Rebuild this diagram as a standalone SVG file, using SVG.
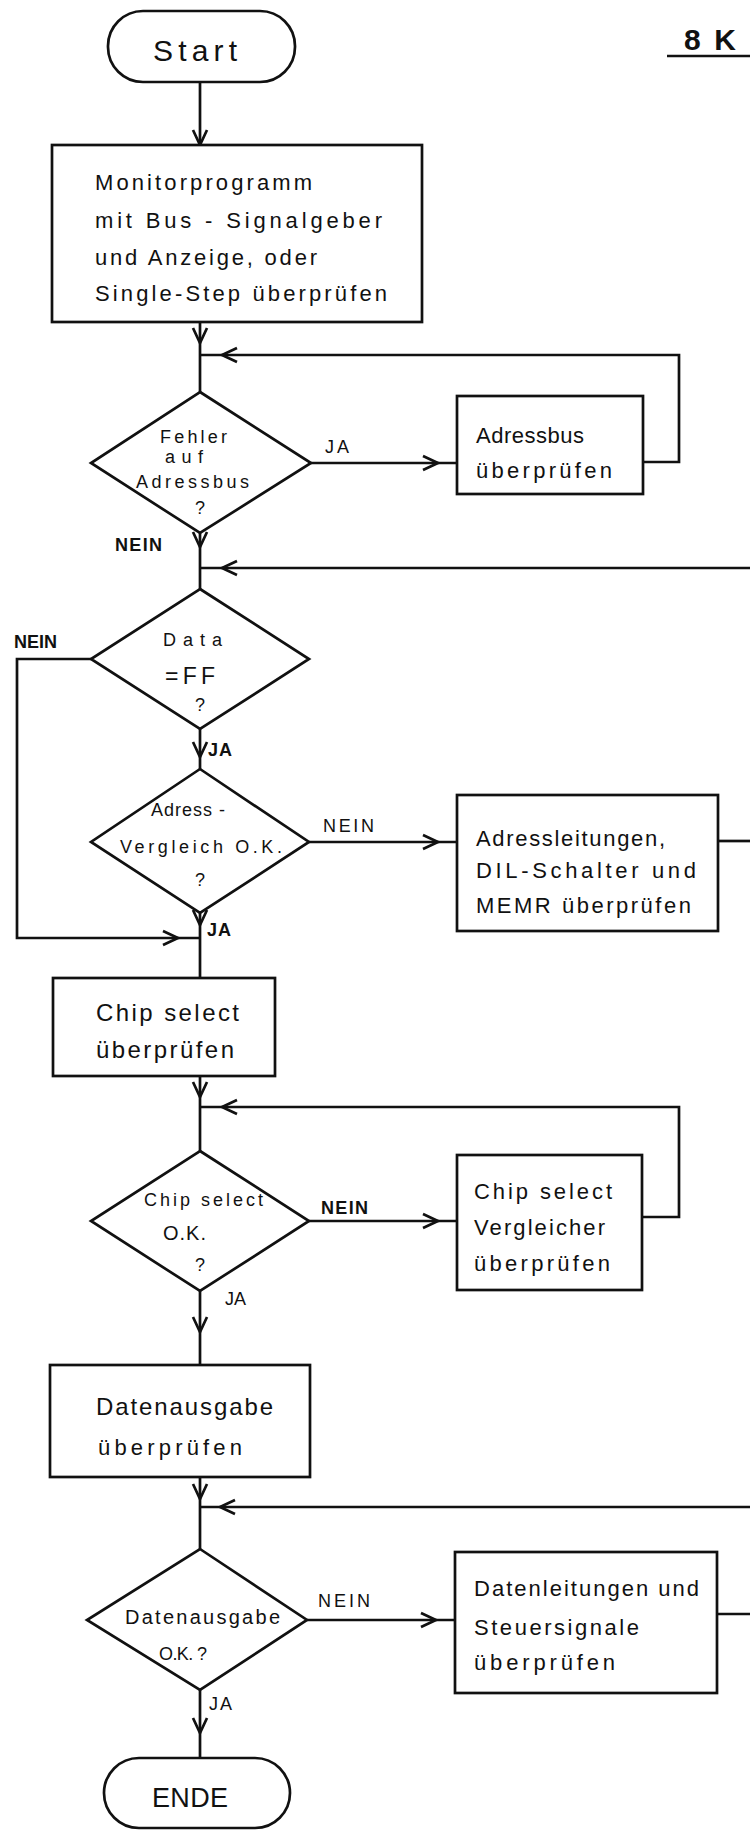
<svg xmlns="http://www.w3.org/2000/svg" xmlns:xlink="http://www.w3.org/1999/xlink" width="750" height="1830" viewBox="0 0 750 1830">
  <style>
    .shape { fill: #ffffff; stroke: #111111; stroke-width: 2.7; stroke-linejoin: miter; }
    .wire { fill: none; stroke: #111111; stroke-width: 2.7; }
    .ah { fill: none; stroke: #111111; stroke-width: 2.7; stroke-linejoin: miter; }
    text { font-family: "Liberation Sans", Arial, sans-serif; fill: #111111; }
    .big { font-size: 22px; }
    .dia { font-size: 18px; }
    .lbl { font-size: 18px; }
    .bold { font-weight: bold; }
    .term { font-size: 30px; }
  </style>
  <defs>
    <!-- open chevron arrowhead, tip at the origin, pointing down -->
    <path id="chev" d="M-7,-15 L0,0 L7,-15"/>
  </defs>

  <rect width="750" height="1830" fill="#ffffff"/>

  <!-- title -->
  <g id="title">
    <text x="684" y="50" class="bold" font-size="30" textLength="52" lengthAdjust="spacing">8 K</text>
    <line x1="667" y1="56" x2="750" y2="56" stroke="#111111" stroke-width="2.7"/>
  </g>

  <!-- connectors -->
  <g id="connectors">
    <path class="wire" d="M200,82 V145"/>
    <use xlink:href="#chev" class="ah" transform="translate(200,145)"/>

    <path class="wire" d="M200,322 V392"/>
    <use xlink:href="#chev" class="ah" transform="translate(200,343)"/>

    <path class="wire" d="M643,462 H679 V355 H200"/>
    <use xlink:href="#chev" class="ah" transform="translate(222,355) rotate(90)"/>

    <path class="wire" d="M311,463 H457"/>
    <use xlink:href="#chev" class="ah" transform="translate(438,463) rotate(-90)"/>

    <path class="wire" d="M200,533 V589"/>
    <use xlink:href="#chev" class="ah" transform="translate(200,547)"/>

    <path class="wire" d="M750,568 H200"/>
    <use xlink:href="#chev" class="ah" transform="translate(222,568) rotate(90)"/>
    <path class="wire" d="M718,841 H750"/>

    <path class="wire" d="M91,659 H17 V938 H200"/>
    <use xlink:href="#chev" class="ah" transform="translate(178,938) rotate(-90)"/>

    <path class="wire" d="M200,729 V769"/>
    <use xlink:href="#chev" class="ah" transform="translate(200,757)"/>

    <path class="wire" d="M309,842 H457"/>
    <use xlink:href="#chev" class="ah" transform="translate(438,842) rotate(-90)"/>

    <path class="wire" d="M200,913 V978"/>
    <use xlink:href="#chev" class="ah" transform="translate(200,925)"/>

    <path class="wire" d="M200,1076 V1151"/>
    <use xlink:href="#chev" class="ah" transform="translate(200,1097)"/>

    <path class="wire" d="M642,1217 H679 V1107 H200"/>
    <use xlink:href="#chev" class="ah" transform="translate(222,1107) rotate(90)"/>

    <path class="wire" d="M309,1221 H457"/>
    <use xlink:href="#chev" class="ah" transform="translate(438,1221) rotate(-90)"/>

    <path class="wire" d="M200,1291 V1365"/>
    <use xlink:href="#chev" class="ah" transform="translate(200,1332)"/>

    <path class="wire" d="M200,1477 V1549"/>
    <use xlink:href="#chev" class="ah" transform="translate(200,1499)"/>

    <path class="wire" d="M750,1507 H200"/>
    <use xlink:href="#chev" class="ah" transform="translate(220,1507) rotate(90)"/>
    <path class="wire" d="M717,1614 H750"/>

    <path class="wire" d="M307,1620 H455"/>
    <use xlink:href="#chev" class="ah" transform="translate(436,1620) rotate(-90)"/>

    <path class="wire" d="M200,1690 V1758"/>
    <use xlink:href="#chev" class="ah" transform="translate(200,1733)"/>
  </g>

  <!-- branch labels -->
  <g id="labels">
    <text x="325" y="453" class="lbl" textLength="24" lengthAdjust="spacing">JA</text>
    <text x="115" y="551" class="lbl bold" textLength="47" lengthAdjust="spacing">NEIN</text>
    <text x="14" y="648" class="lbl bold" textLength="43" lengthAdjust="spacing">NEIN</text>
    <text x="208" y="756" class="lbl bold" textLength="24" lengthAdjust="spacing">JA</text>
    <text x="323" y="832" class="lbl" textLength="51" lengthAdjust="spacing">NEIN</text>
    <text x="207" y="936" class="lbl bold" textLength="24" lengthAdjust="spacing">JA</text>
    <text x="321" y="1214" class="lbl bold" textLength="47" lengthAdjust="spacing">NEIN</text>
    <text x="225" y="1305" class="lbl" textLength="21" lengthAdjust="spacing">JA</text>
    <text x="318" y="1607" class="lbl" textLength="52" lengthAdjust="spacing">NEIN</text>
    <text x="209" y="1710" class="lbl" textLength="23" lengthAdjust="spacing">JA</text>
  </g>

  <g id="start">
    <rect class="shape" x="108" y="11" width="187" height="71" rx="35" ry="35"/>
    <text x="153" y="61" class="term" textLength="84" lengthAdjust="spacing">Start</text>
  </g>

  <g id="monitor">
    <rect class="shape" x="52" y="145" width="370" height="177"/>
    <text x="95" y="190" class="big" textLength="217" lengthAdjust="spacing">Monitorprogramm</text>
    <text x="95" y="228" class="big" textLength="287" lengthAdjust="spacing">mit Bus - Signalgeber</text>
    <text x="95" y="265" class="big" textLength="222" lengthAdjust="spacing">und Anzeige, oder</text>
    <text x="95" y="301" class="big" textLength="292" lengthAdjust="spacing">Single-Step überprüfen</text>
  </g>

  <g id="dec-adressbus">
    <polygon class="shape" points="200,392 311,463 200,533 91,463"/>
    <text x="160" y="443" class="dia" textLength="67" lengthAdjust="spacing">Fehler</text>
    <text x="165" y="463" class="dia" textLength="38" lengthAdjust="spacing">auf</text>
    <text x="136" y="488" class="dia" textLength="113" lengthAdjust="spacing">Adressbus</text>
    <text x="195" y="514" class="dia">?</text>
  </g>

  <g id="chk-adressbus">
    <rect class="shape" x="457" y="396" width="186" height="98"/>
    <text x="476" y="443" class="big" textLength="108" lengthAdjust="spacing">Adressbus</text>
    <text x="476" y="478" class="big" textLength="136" lengthAdjust="spacing">überprüfen</text>
  </g>

  <g id="dec-data">
    <polygon class="shape" points="200,589 309,659 200,729 91,659"/>
    <text x="163" y="646" class="dia" textLength="59" lengthAdjust="spacing">Data</text>
    <text x="165" y="684" font-size="23" textLength="50" lengthAdjust="spacing">=FF</text>
    <text x="195" y="711" class="dia">?</text>
  </g>

  <g id="dec-vergleich">
    <polygon class="shape" points="200,769 309,842 200,913 91,842"/>
    <text x="151" y="816" class="dia" textLength="74" lengthAdjust="spacing">Adress -</text>
    <text x="120" y="853" class="dia" textLength="162" lengthAdjust="spacing">Vergleich O.K.</text>
    <text x="195" y="886" class="dia">?</text>
  </g>

  <g id="chk-leitungen">
    <rect class="shape" x="457" y="795" width="261" height="136"/>
    <text x="476" y="846" class="big" textLength="189" lengthAdjust="spacing">Adressleitungen,</text>
    <text x="476" y="878" class="big" textLength="220" lengthAdjust="spacing">DIL-Schalter und</text>
    <text x="476" y="913" class="big" textLength="215" lengthAdjust="spacing">MEMR überprüfen</text>
  </g>

  <g id="chk-chipselect">
    <rect class="shape" x="53" y="978" width="222" height="98"/>
    <text x="96" y="1021" font-size="24" textLength="143" lengthAdjust="spacing">Chip select</text>
    <text x="96" y="1058" font-size="24" textLength="138" lengthAdjust="spacing">überprüfen</text>
  </g>

  <g id="dec-chipselect">
    <polygon class="shape" points="200,1151 309,1221 200,1291 91,1221"/>
    <text x="144" y="1206" class="dia" textLength="119" lengthAdjust="spacing">Chip select</text>
    <text x="163" y="1240" font-size="20" textLength="43" lengthAdjust="spacing">O.K.</text>
    <text x="195" y="1271" class="dia">?</text>
  </g>

  <g id="chk-vergleicher">
    <rect class="shape" x="457" y="1155" width="185" height="135"/>
    <text x="474" y="1199" class="big" textLength="138" lengthAdjust="spacing">Chip select</text>
    <text x="474" y="1235" class="big" textLength="131" lengthAdjust="spacing">Vergleicher</text>
    <text x="474" y="1271" class="big" textLength="136" lengthAdjust="spacing">überprüfen</text>
  </g>

  <g id="chk-datenausgabe">
    <rect class="shape" x="50" y="1365" width="260" height="112"/>
    <text x="96" y="1415" font-size="24" textLength="177" lengthAdjust="spacing">Datenausgabe</text>
    <text x="98" y="1455" class="big" textLength="144" lengthAdjust="spacing">überprüfen</text>
  </g>

  <g id="dec-datenausgabe">
    <polygon class="shape" points="200,1549 307,1620 200,1690 87,1620"/>
    <text x="125" y="1624" font-size="20" textLength="155" lengthAdjust="spacing">Datenausgabe</text>
    <text x="159" y="1660" class="dia" textLength="48" lengthAdjust="spacing">O.K. ?</text>
  </g>

  <g id="chk-datenleitungen">
    <rect class="shape" x="455" y="1552" width="262" height="141"/>
    <text x="474" y="1596" class="big" textLength="225" lengthAdjust="spacing">Datenleitungen und</text>
    <text x="474" y="1635" class="big" textLength="165" lengthAdjust="spacing">Steuersignale</text>
    <text x="474" y="1670" class="big" textLength="141" lengthAdjust="spacing">überprüfen</text>
  </g>

  <g id="ende">
    <rect class="shape" x="104" y="1758" width="186" height="70" rx="35" ry="35"/>
    <text x="152" y="1807" font-size="27" textLength="76" lengthAdjust="spacing">ENDE</text>
  </g>
</svg>
